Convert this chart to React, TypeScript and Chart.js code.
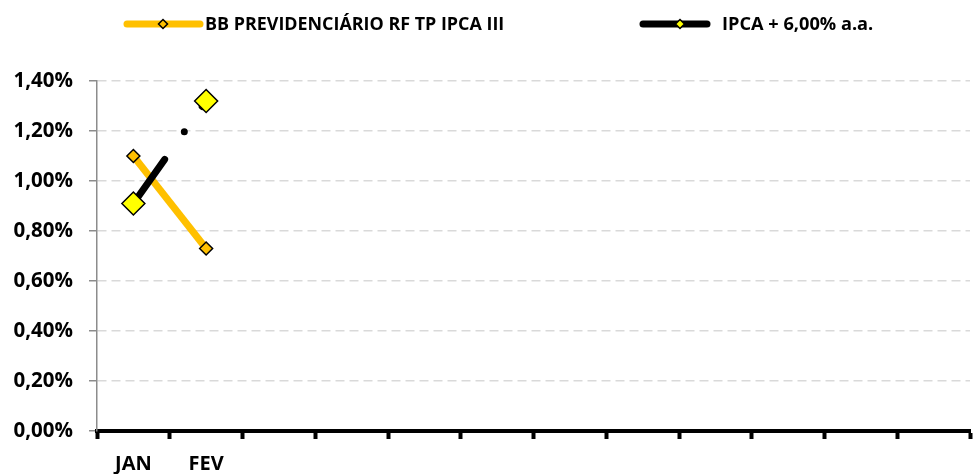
import React, { useEffect, useRef } from "react";
import { Chart, registerables } from "chart.js";

Chart.register(...registerables);

const categories = ["JAN", "FEV", "", "", "", "", "", "", "", "", "", ""];
const fundName = "BB PREVIDENCIÁRIO RF TP IPCA III";
const benchName = "IPCA + 6,00% a.a.";
const fundValues: (number | null)[] = [1.1, 0.73, null, null, null, null, null, null, null, null, null, null];
const benchValues: (number | null)[] = [0.91, 1.32, null, null, null, null, null, null, null, null, null, null];
const yMin = 0;
const yMax = 1.4;
const yStep = 0.2;

const FONT = "'Open Sans', 'DejaVu Sans', sans-serif";
const ORANGE = "#FFC000";
const YELLOW = "#FFFF00";

function diamond(ctx: CanvasRenderingContext2D, x: number, y: number, r: number, fill: string) {
  ctx.beginPath();
  ctx.moveTo(x, y - r);
  ctx.lineTo(x + r, y);
  ctx.lineTo(x, y + r);
  ctx.lineTo(x - r, y);
  ctx.closePath();
  ctx.fillStyle = fill;
  ctx.fill();
  ctx.lineWidth = 1.5;
  ctx.strokeStyle = "#000";
  ctx.stroke();
}

const legendPlugin = {
  id: "customLegend",
  afterDraw(chart: any) {
    const ctx: CanvasRenderingContext2D = chart.ctx;
    ctx.save();
    const y = 24;
    const items = [
      { x1: 127, x2: 200, color: ORANGE, mfill: ORANGE, mx: 163, tx: 205, w: 300, text: fundName },
      { x1: 643, x2: 707, color: "#000", mfill: YELLOW, mx: 680, tx: 722, w: 151, text: benchName },
    ];
    for (const it of items) {
      ctx.beginPath();
      ctx.lineCap = "round";
      ctx.lineWidth = 7;
      ctx.strokeStyle = it.color;
      ctx.moveTo(it.x1, y);
      ctx.lineTo(it.x2, y);
      ctx.stroke();
      diamond(ctx, it.mx, y, 4.5, it.mfill);
      ctx.font = `bold 16px ${FONT}`;
      const m = ctx.measureText(it.text).width;
      const size = Math.min(22, (16 * it.w) / m);
      ctx.font = `bold ${size.toFixed(1)}px ${FONT}`;
      ctx.fillStyle = "#000";
      ctx.textBaseline = "middle";
      ctx.textAlign = "left";
      ctx.fillText(it.text, it.tx, y + 1);
    }
    ctx.restore();
  },
};

export default function App() {
  const ref = useRef<HTMLCanvasElement | null>(null);
  useEffect(() => {
    if (!ref.current) return;
    const chart = new Chart(ref.current, {
      type: "line",
      data: {
        labels: categories,
        datasets: [
          {
            label: fundName,
            data: fundValues,
            borderColor: ORANGE,
            backgroundColor: ORANGE,
            borderWidth: 7,
            tension: 0,
            pointStyle: "rectRot",
            pointRadius: 6.5,
            pointBackgroundColor: ORANGE,
            pointBorderColor: "#000",
            pointBorderWidth: 1.5,
            order: 1,
          },
          {
            label: benchName,
            data: benchValues,
            borderColor: "#000",
            backgroundColor: "#000",
            borderWidth: 7,
            borderCapStyle: "round",
            borderDash: [54, 34, 0, 31],
            tension: 0,
            pointStyle: "rectRot",
            pointRadius: 11.5,
            pointBackgroundColor: YELLOW,
            pointBorderColor: "#000",
            pointBorderWidth: 1.5,
            order: 0,
          },
        ],
      },
      options: {
        animation: false,
        responsive: false,
        layout: { autoPadding: false, padding: { top: 81, right: 3, left: 0, bottom: 0 } },
        plugins: { legend: { display: false }, tooltip: { enabled: false } },
        scales: {
          x: {
            type: "category",
            offset: true,
            afterFit: (s: any) => {
              s.height = 43;
              s.paddingLeft = 0;
              s.paddingRight = 0;
            },
            grid: {
              offset: true,
              drawOnChartArea: false,
              drawTicks: true,
              tickLength: 8,
              tickWidth: 4,
              tickColor: "#000",
            },
            border: { display: true, color: "#000", width: 4 },
            ticks: {
              color: "#000",
              font: { family: FONT, weight: "bold", size: 20 },
              padding: 13,
              maxRotation: 0,
              autoSkip: false,
            },
          },
          y: {
            min: yMin,
            max: yMax,
            afterFit: (s: any) => {
              s.width = 97;
            },
            grid: {
              color: "#d9d9d9",
              lineWidth: 1.5,
              drawTicks: true,
              tickLength: 8,
              tickColor: "#8c8c8c",
              tickWidth: 1.5,
              borderDash: [9, 5],
              tickBorderDash: [],
            },
            border: { display: true, color: "#8c8c8c", width: 1.5, dash: [9, 5] },
            ticks: {
              stepSize: yStep,
              color: "#000",
              font: { family: FONT, weight: "bold", size: 20.5 },
              padding: 16,
              callback: (v: any) => Number(v).toFixed(2).replace(".", ",") + "%",
            },
          },
        },
      },
      plugins: [legendPlugin],
    } as any);
    return () => chart.destroy();
  }, []);
  return (
    <div style={{ position: "absolute", left: 0, top: 0, width: 973, height: 474, background: "#fff" }}>
      <canvas ref={ref} width={973} height={474} />
    </div>
  );
}
